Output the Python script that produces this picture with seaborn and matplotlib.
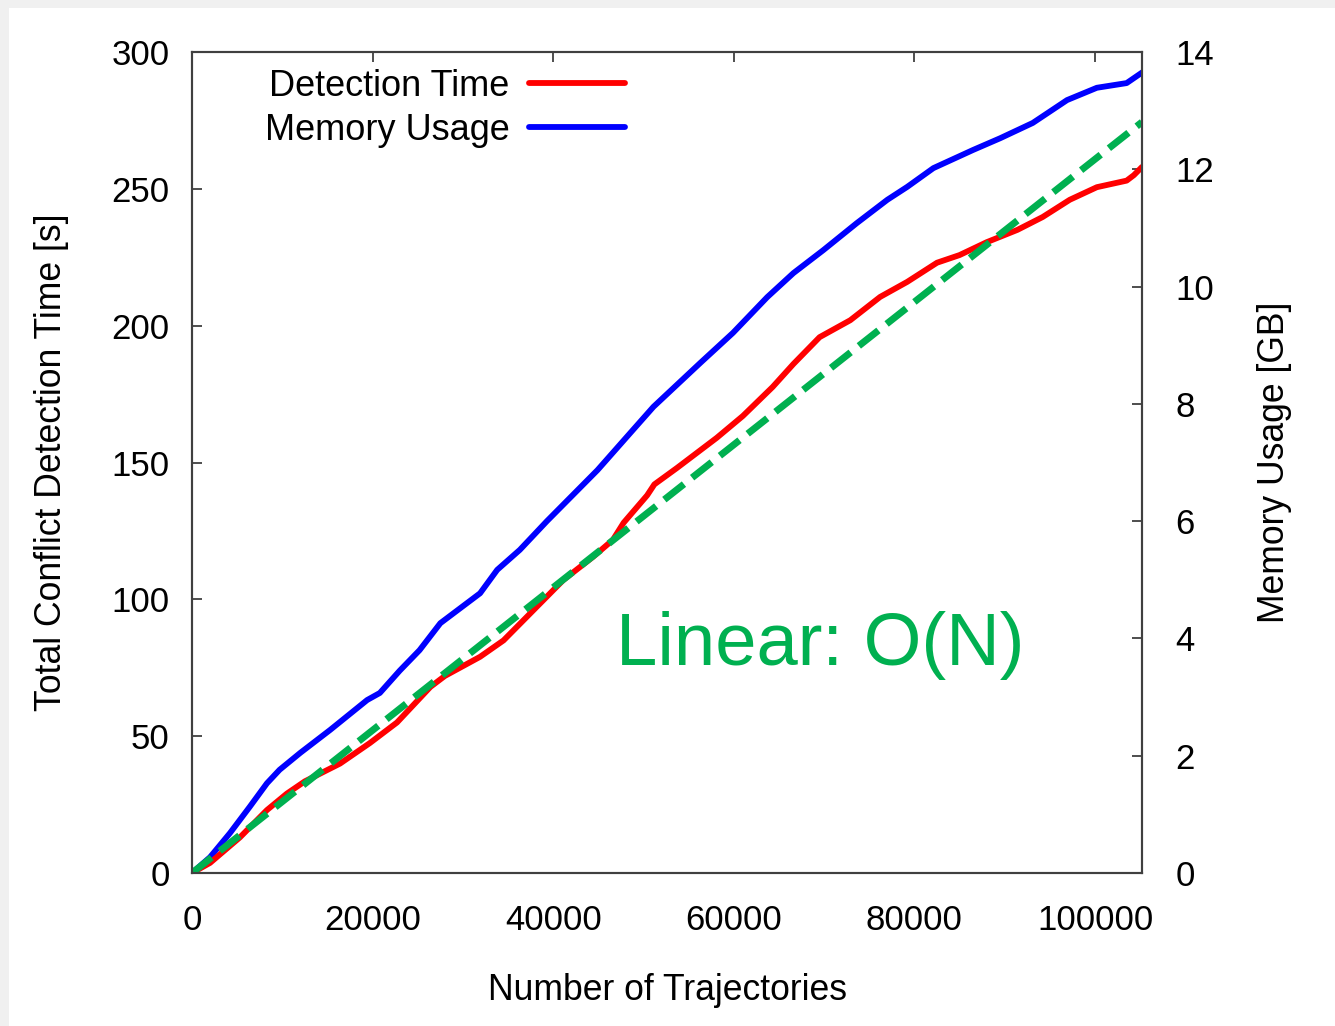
import matplotlib
matplotlib.use('Agg')
import matplotlib.pyplot as plt
import matplotlib.patches as mpatches
import pandas as pd
import seaborn as sns

# Detection time [s] vs number of trajectories.
time_x = [0, 2000, 5300, 8300, 10500, 12500, 16400, 19700, 22700, 26400, 28000,
          31900, 34500, 37800, 41100, 44400, 46600, 47800, 50400, 51200, 53700,
          58100, 61000, 64300, 66600, 69500, 72900, 76200, 79200, 82500, 85000,
          88000, 91400, 94200, 97200, 100200, 103500, 104300, 105200]
time_y = [0, 3.7, 13, 23, 29, 33.5, 40, 47.5, 55, 68, 72,
          79, 85, 96, 107, 115.5, 121.7, 128, 138, 142, 148,
          159, 167, 177.6, 186, 195.8, 202, 210.5, 216, 223, 225.8,
          230.5, 235, 239.7, 246, 250.6, 253, 255, 258]

# Memory usage [GB].
mem_x = [0, 2000, 4200, 6400, 8300, 9700, 12000, 15300, 19400, 20800, 23000,
         25200, 27500, 31900, 33800, 36300, 39300, 44900, 48800, 51100, 56300,
         59900, 63700, 66600, 69900, 73600, 77000, 79200, 82100, 86500, 89500,
         93100, 96900, 100200, 103500, 105300]
mem_y = [0, 0.27, 0.68, 1.13, 1.53, 1.76, 2.05, 2.44, 2.95, 3.07, 3.45,
         3.80, 4.26, 4.77, 5.17, 5.51, 6.0, 6.87, 7.55, 7.95, 8.70,
         9.21, 9.82, 10.23, 10.62, 11.08, 11.48, 11.70, 12.02, 12.33, 12.53,
         12.79, 13.18, 13.39, 13.47, 13.66]

# Linear reference O(N), end points.
linear_x = [0, 105200]
linear_y = [0, 274.4]

x_ticks = [0, 20000, 40000, 60000, 80000, 100000]
left_ticks = [0, 50, 100, 150, 200, 250, 300]
right_ticks = [0, 2, 4, 6, 8, 10, 12, 14]

RED = '#ff0000'
BLUE = '#0000ff'
GREEN = '#00b050'

sns.set_style('white')
plt.rcParams['font.family'] = ['Liberation Sans', 'DejaVu Sans']
plt.rcParams['text.color'] = 'black'
plt.rcParams['axes.labelcolor'] = 'black'
plt.rcParams['xtick.labelcolor'] = 'black'
plt.rcParams['ytick.labelcolor'] = 'black'

fig = plt.figure(figsize=(13.35, 10.26), dpi=100)
# Light grey frame like the screenshot edge.
fig.patch.set_facecolor('#f0f0f0')
fig.patches.append(mpatches.Rectangle((9 / 1335, 0), 1, 1 - 8 / 1026,
                                      transform=fig.transFigure,
                                      facecolor='white', edgecolor='none',
                                      zorder=-10))

ax = fig.add_axes([192 / 1335, 153 / 1026, 950 / 1335, 821 / 1026])
ax2 = ax.twinx()

time_df = pd.DataFrame({'x': time_x, 'y': time_y})
mem_df = pd.DataFrame({'x': mem_x, 'y': mem_y})
lin_df = pd.DataFrame({'x': linear_x, 'y': linear_y})

sns.lineplot(data=mem_df, x='x', y='y', ax=ax2, color=BLUE, lw=4.2,
             label='Memory Usage', legend=False, solid_capstyle='round',
             solid_joinstyle='round')
sns.lineplot(data=time_df, x='x', y='y', ax=ax, color=RED, lw=4.2,
             label='Detection Time', legend=False, solid_capstyle='round',
             solid_joinstyle='round')
sns.lineplot(data=lin_df, x='x', y='y', ax=ax, color=GREEN, lw=5,
             legend=False)
ax.lines[-1].set_dashes((3.6, 1.5))

# Left axis on top of the twin so the green guide covers the curves.
ax.set_zorder(ax2.get_zorder() + 1)
ax.patch.set_visible(False)

ax.set_xlim(0, 105200)
ax.set_ylim(0, 300)
ax2.set_ylim(0, 14)
ax.set_xticks(x_ticks)
ax.set_yticks(left_ticks)
ax2.set_yticks(right_ticks)

fs = 25
ax.tick_params(axis='x', direction='in', length=7, width=1.3, color='#404040',
               labelsize=fs, pad=22, top=True)
ax.tick_params(axis='y', direction='in', length=7, width=1.3, color='#404040',
               labelsize=fs, pad=16, left=True, right=False)
ax2.tick_params(axis='y', direction='in', length=7, width=1.3, color='#404040',
                labelsize=fs, pad=24, right=True)
for a in (ax, ax2):
    for s in a.spines.values():
        s.set_color('#404040')
        s.set_linewidth(1.5)

lfs = 25.6
ax.set_xlabel('Number of Trajectories', fontsize=lfs, labelpad=26)
ax.set_ylabel('Total Conflict Detection Time [s]', fontsize=lfs, labelpad=31)
ax2.set_ylabel('Memory Usage [GB]', fontsize=lfs, labelpad=31)

ax.text(47000, 83, 'Linear: O(N)', color=GREEN, fontsize=53.5,
        ha='left', va='center')

h1, l1 = ax.get_legend_handles_labels()
h2, l2 = ax2.get_legend_handles_labels()
leg = ax.legend(h1[:1] + h2, l1[:1] + l2, loc='upper left',
                bbox_to_anchor=(0.05, 1.01), fontsize=26, frameon=False,
                markerfirst=False, handlelength=2.65, handletextpad=0.55,
                labelspacing=0.25, borderaxespad=0.3)

fig.savefig('out.png', dpi=100, facecolor=fig.get_facecolor())
